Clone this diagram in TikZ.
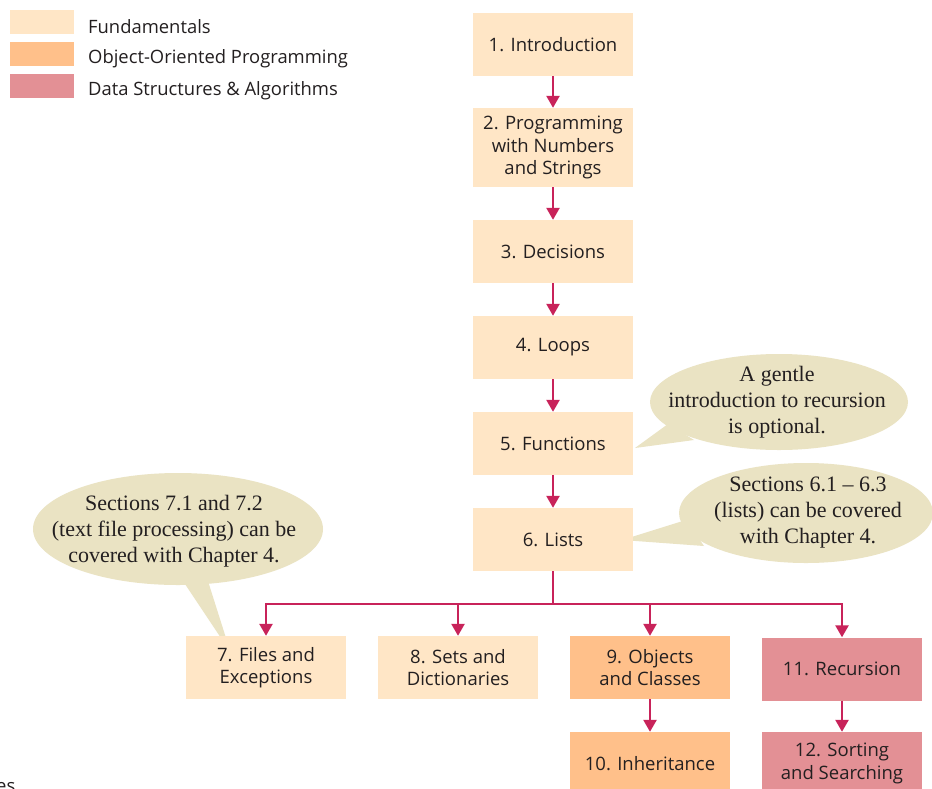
\documentclass[tikz,border=0pt]{standalone}
\usepackage{fontspec}
\setmainfont{Liberation Serif}
\setsansfont{Open Sans}
\usetikzlibrary{arrows.meta}
\definecolor{fund}{HTML}{FFE6C6}
\definecolor{oop}{HTML}{FFC08A}
\definecolor{dsa}{HTML}{E39095}
\definecolor{callc}{HTML}{EAE3C3}
\definecolor{arr}{HTML}{C8235A}
\definecolor{txt}{HTML}{231F20}
\begin{document}
\begin{tikzpicture}[x=1pt,y=-1pt,
  chap/.style={minimum width=160pt,minimum height=63pt,inner sep=0pt,align=center,
    font=\sffamily\fontsize{18.5}{22.5}\selectfont,text=txt},
  conn/.style={draw=arr,line width=2.5pt,-{Triangle[width=13pt,length=12pt]}},
  plainline/.style={draw=arr,line width=2.5pt},
  callbg/.style={fill=callc},
  calltext/.style={inner sep=0pt,align=center,
    font=\rmfamily\fontsize{22}{26}\selectfont,text=txt},
  swatch/.style={minimum width=64pt,minimum height=24pt,inner sep=0pt},
  legtext/.style={anchor=west,inner sep=0pt,font=\sffamily\fontsize{18.4}{21}\selectfont,text=txt}
]
\useasboundingbox (0,0) rectangle (932,788);
\fill[white] (0,0) rectangle (932,788);

% legend
\node[swatch,fill=fund] (s1) at (42,22) {};
\node[swatch,fill=oop]  (s2) at (42,54) {};
\node[swatch,fill=dsa]  (s3) at (42,86) {};
\node[legtext] (l1) at (88,27) {Fundamentals};
\node[legtext] (l2) at (88,59) {Object-Oriented Programming};
\node[legtext] (l3) at (88,91) {Data Structures \& Algorithms};

% callouts
\fill[callbg] (779,402) ellipse [x radius=129, y radius=48];
\fill[callbg] (668,424) -- (635,448) -- (694,440) -- cycle;
\node[calltext] (ca) at (777,402) {A gentle\\introduction to recursion\\is optional.};

\fill[callbg] (806,513) ellipse [x radius=127, y radius=50];
\fill[callbg] (686,520) -- (622,540) -- (704,546) -- cycle;
\node[calltext] (cb) at (808,513) {Sections 6.1 -- 6.3\\(lists) can be covered\\with Chapter 4.};

\fill[callbg] (178,529) ellipse [x radius=145, y radius=56];
\fill[callbg] (181,578) -- (221,638) -- (226,638) -- (207,578) -- cycle;
\node[calltext] (cc) at (174,531) {Sections 7.1 and 7.2\\(text file processing) can be\\covered with Chapter 4.};

% chapter boxes
\node[chap,fill=fund] (b1) at (553,44.5) {1. Introduction};
\node[chap,fill=fund,minimum height=79pt] (b2) at (553,147.5) {2. Programming\\with Numbers\\and Strings};
\node[chap,fill=fund] (b3) at (553,251.5) {3. Decisions};
\node[chap,fill=fund] (b4) at (553,347.5) {4. Loops};
\node[chap,fill=fund] (b5) at (553,443.5) {5. Functions};
\node[chap,fill=fund] (b6) at (553,539.5) {6. Lists};
\node[chap,fill=fund] (b7) at (266,667.5) {7. Files and\\Exceptions};
\node[chap,fill=fund] (b8) at (458,667.5) {8. Sets and\\Dictionaries};
\node[chap,fill=oop]  (b9) at (650,667.5) {9. Objects\\and Classes};
\node[chap,fill=dsa]  (b11) at (842,669) {11. Recursion};
\node[chap,fill=oop]  (b10) at (650,763.5) {10. Inheritance};
\node[chap,fill=dsa]  (b12) at (842,763.5) {12. Sorting\\and Searching};

\node[anchor=base west,inner sep=0pt,font=\sffamily\fontsize{18.5}{21}\selectfont,text=txt] (frag) at (-4,792) {es};

% connectors
\draw[conn] (b1) -- (b2);
\draw[conn] (b2) -- (b3);
\draw[conn] (b3) -- (b4);
\draw[conn] (b4) -- (b5);
\draw[conn] (b5) -- (b6);
\coordinate (split) at (553,604);
\draw[plainline] (b6.south) -- (split);
\draw[conn] (split) -| (b7.north);
\draw[conn] (split) -| (b8.north);
\draw[conn] (split) -| (b9.north);
\draw[conn] (split) -| (b11.north);
\draw[conn] (b9) -- (b10);
\draw[conn] (b11) -- (b12);
\end{tikzpicture}
\end{document}
